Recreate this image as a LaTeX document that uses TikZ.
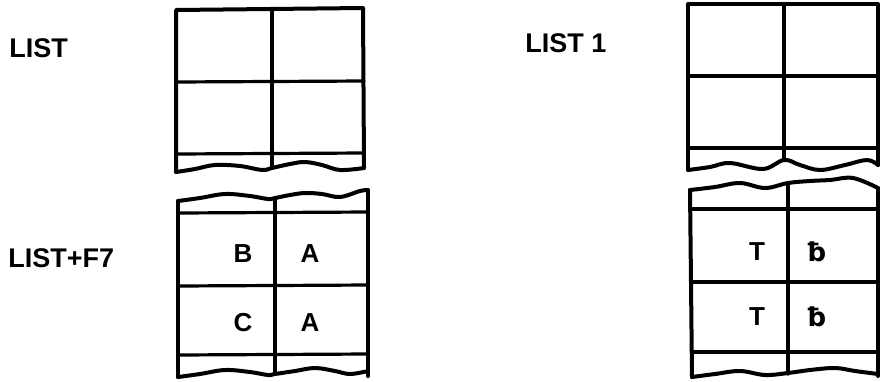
\documentclass[tikz,border=0pt]{standalone}
\usepackage{fontspec}
\setmainfont{Liberation Sans}
\newfontfamily\djv{DejaVu Sans}
\begin{document}
\begin{tikzpicture}[x=0.5pt,y=-0.5pt,
  outer/.style={line width=2pt, line join=round, line cap=round},
  inner/.style={line width=1.6pt, line cap=round},
  wave/.style={line width=2pt, line join=round, line cap=round},
  lbl/.style={font=\bfseries\fontsize{13.5}{15}\selectfont, anchor=west, inner sep=0pt},
  cell/.style={font=\bfseries\fontsize{13}{15}\selectfont, inner sep=0pt}]
\useasboundingbox (0,0) rectangle (882,381);

% labels
\node[lbl] (l1) at (9,48) {LIST};
\node[lbl] (l2) at (525,43) {LIST 1};
\node[lbl] (l3) at (8,258) {LIST+F7};

% ---- top-left table
\draw[outer] (176,172) -- (176,10) -- (363,8) -- (364,168);
\draw[wave] plot[smooth, tension=0.6] coordinates {(176,172) (195,169) (215,165) (240,166) (262,170) (272,168) (290,164) (305,162) (322,165) (340,170) (364,168)};
\draw[inner] (272,9) -- (272,168);
\draw[inner] (176,82) -- (364,81);
\draw[inner] (176,154) -- (364,153);

% ---- bottom-left table
\draw[wave] plot[smooth, tension=0.6] coordinates {(178,201) (200,198) (225,194) (250,196) (268,199) (275,198) (290,195) (305,193) (322,194) (340,197) (360,191) (368,190)};
\draw[outer] (178,201) -- (178,377);
\draw[outer] (368,190) -- (368,376);
\draw[wave] plot[smooth, tension=0.6] coordinates {(178,377) (200,374) (225,370) (250,372) (268,375) (275,374) (295,371) (315,368) (335,371) (350,374) (368,371)};
\draw[inner] (275,198) -- (275,374);
\draw[inner] (178,213) -- (368,212);
\draw[inner] (178,286) -- (368,285);
\draw[inner] (178,355) -- (368,354);
\node[cell] (b1) at (243,254) {B};
\node[cell] (a1) at (310,254) {A};
\node[cell] (c1) at (243,323) {C};
\node[cell] (a2) at (310,323) {A};

% ---- top-right table
\draw[outer] (688,170) -- (688,4) -- (878,4) -- (878,165);
\draw[wave] plot[smooth, tension=0.6] coordinates {(688,170) (710,167) (730,163) (763,169) (784,160) (800,165) (820,170) (845,165) (867,160) (878,165)};
\draw[inner] (784,4) -- (784,160);
\draw[inner] (688,76) -- (878,76);
\draw[inner] (688,148) -- (878,148);

% ---- bottom-right table
\draw[wave] plot[smooth, tension=0.6] coordinates {(690,190) (715,187) (740,183) (765,188) (788,183) (810,181) (830,180) (853,178) (878,188)};
\draw[outer] (690,190) -- (692,377);
\draw[outer] (878,188) -- (878,376);
\draw[wave] plot[smooth, tension=0.6] coordinates {(692,377) (715,374) (740,371) (765,375) (788,373) (810,370) (835,368) (855,371) (878,374)};
\draw[inner] (788,184) -- (788,374);
\draw[inner] (691,209) -- (878,209);
\draw[inner] (692,282) -- (878,282);
\draw[inner] (692,352) -- (878,352);
\node[cell] (t1) at (757,252) {T};
\node[cell] (s1) at (817,252) {\djv ƀ};
\node[cell] (t2) at (757,317) {T};
\node[cell] (s2) at (817,317) {\djv ƀ};
\end{tikzpicture}
\end{document}
